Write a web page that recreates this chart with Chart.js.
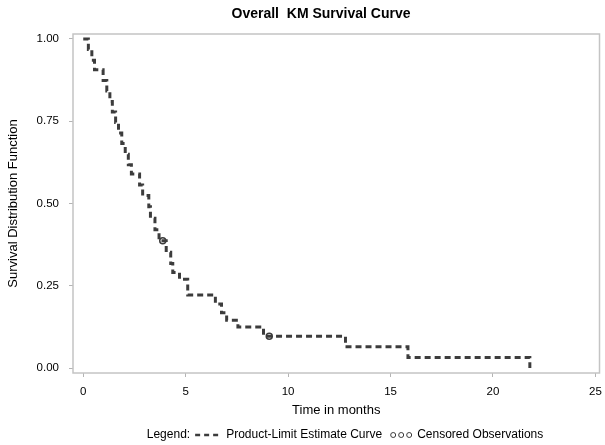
<!DOCTYPE html>
<html lang="en">
<head>
    <meta charset="UTF-8">
    <title>Overall KM Survival Curve</title>
    <script src="https://cdn.jsdelivr.net/npm/chart.js"></script>
    <style>
        html, body { margin: 0; padding: 0; background: #fff; }
        .wrap { width: 605px; height: 445px; position: relative; }
    </style>
</head>
<body>
    <div class="wrap"><canvas id="km"></canvas></div>

    <script>
        // Kaplan-Meier steps (time in months, survival after the drop)
        const eventTimes = [0, 0.25, 0.42, 0.55, 0.97, 1.15, 1.30, 1.42, 1.58, 1.72, 1.88, 2.05, 2.20, 2.35, 2.75, 2.90,
                            3.20, 3.28, 3.50, 3.70, 4.05, 4.27, 4.37, 4.70, 5.10, 6.45, 6.75, 7.00, 7.55, 8.80, 12.80, 15.85, 21.80];
        const survival = [1.000, 0.968, 0.935, 0.906, 0.874, 0.842, 0.810, 0.778, 0.746, 0.714, 0.682, 0.650, 0.618, 0.590, 0.556, 0.524,
                          0.490, 0.455, 0.420, 0.387, 0.352, 0.318, 0.290, 0.270, 0.222, 0.195, 0.168, 0.145, 0.125, 0.097, 0.065, 0.032, 0.000];

        // censored observations
        const censorTimes = [3.88, 9.08];
        const censorSurvival = [0.387, 0.097];

        const xTicks = [0, 5, 10, 15, 20, 25];
        const yTicks = [0, 0.25, 0.50, 0.75, 1.00];

        const LINE = '#3c3c3c';
        const FONT = '"Liberation Sans", Arial, sans-serif';
        Chart.defaults.font.family = FONT;
        Chart.defaults.color = '#000';

        // frame, title and SAS-style legend line
        const decorations = {
            id: 'decorations',
            afterDraw(chart) {
                const ctx = chart.ctx;
                const a = chart.chartArea;
                ctx.save();
                ctx.strokeStyle = '#c4c4c4';
                ctx.lineWidth = 1.5;
                ctx.strokeRect(a.left, a.top, a.right - a.left, a.bottom - a.top);

                ctx.fillStyle = '#000';
                ctx.textBaseline = 'middle';
                ctx.textAlign = 'center';
                ctx.font = 'bold 14px ' + FONT;
                ctx.fillText('Overall  KM Survival Curve', 321, 14);

                // legend
                ctx.font = '12px ' + FONT;
                ctx.textAlign = 'left';
                const t1 = 'Legend:', t2 = 'Product-Limit Estimate Curve', t3 = 'Censored Observations';
                const w1 = ctx.measureText(t1).width, w2 = ctx.measureText(t2).width, w3 = ctx.measureText(t3).width;
                const dashW = 26, circW = 22, g = 5;
                const total = w1 + g + dashW + g + w2 + g + 3 + circW + g + w3;
                let x = 345 - total / 2;
                const y = 435;
                ctx.fillText(t1, x, y);
                x += w1 + g;
                ctx.strokeStyle = LINE;
                ctx.lineWidth = 2.5;
                ctx.setLineDash([5, 4]);
                ctx.beginPath();
                ctx.moveTo(x, y);
                ctx.lineTo(x + dashW, y);
                ctx.stroke();
                ctx.setLineDash([]);
                x += dashW + g;
                ctx.fillText(t2, x, y);
                x += w2 + g + 3;
                ctx.lineWidth = 1;
                for (let i = 0; i < 3; i++) {
                    ctx.beginPath();
                    ctx.arc(x + 3 + i * 8, y, 2.5, 0, Math.PI * 2);
                    ctx.stroke();
                }
                x += circW + g;
                ctx.fillText(t3, x, y);
                ctx.restore();
            }
        };

        new Chart(document.getElementById('km'), {
            type: 'line',
            data: {
                datasets: [{
                    label: 'Product-Limit Estimate Curve',
                    data: eventTimes.map((t, i) => ({ x: t, y: survival[i] })),
                    stepped: 'before',
                    borderColor: LINE,
                    borderWidth: 3,
                    borderDash: [6, 4],
                    pointRadius: 0,
                    fill: false
                }, {
                    label: 'Censored Observations',
                    data: censorTimes.map((t, i) => ({ x: t, y: censorSurvival[i] })),
                    showLine: false,
                    pointStyle: 'circle',
                    pointRadius: 3,
                    borderColor: LINE,
                    backgroundColor: '#fff',
                    borderWidth: 1.5
                }]
            },
            options: {
                responsive: true,
                maintainAspectRatio: false,
                animation: false,
                layout: { padding: { top: 34, right: 4, bottom: 26, left: 0 } },
                plugins: {
                    legend: { display: false },
                    title: { display: false },
                    tooltip: { enabled: false }
                },
                scales: {
                    x: {
                        type: 'linear',
                        min: -0.5,
                        max: 25.2,
                        afterBuildTicks: s => { s.ticks = xTicks.map(v => ({ value: v })); },
                        afterFit: s => { s.height = 46; s.paddingLeft = 0; s.paddingRight = 0; },
                        grid: { drawOnChartArea: false, tickLength: 4, color: '#b4b4b4' },
                        border: { display: false },
                        ticks: { font: { size: 11.5 }, padding: 8, maxRotation: 0 },
                        title: { display: true, text: 'Time in months', font: { size: 13 }, padding: { top: 0, bottom: 1 } }
                    },
                    y: {
                        type: 'linear',
                        min: -0.015,
                        max: 1.015,
                        afterBuildTicks: s => { s.ticks = yTicks.map(v => ({ value: v })); },
                        afterFit: s => { s.width = 73; s.paddingTop = 0; s.paddingBottom = 0; },
                        grid: { drawOnChartArea: false, tickLength: 4, color: '#b4b4b4' },
                        border: { display: false },
                        ticks: { font: { size: 11.5 }, padding: 10, callback: v => v.toFixed(2) },
                        title: { display: true, text: 'Survival Distribution Function', font: { size: 13 }, padding: { top: 6, bottom: 0 } }
                    }
                }
            },
            plugins: [decorations]
        });
    </script>
</body>
</html>
